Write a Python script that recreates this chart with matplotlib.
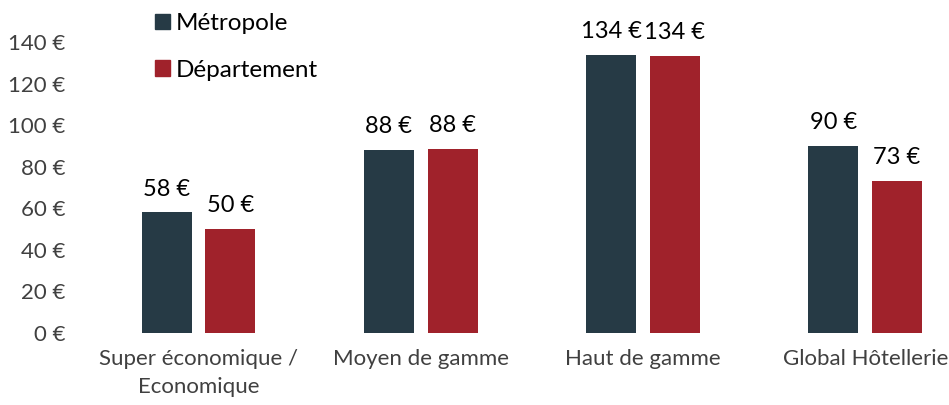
import matplotlib
matplotlib.use("Agg")
import matplotlib.pyplot as plt
import numpy as np
from matplotlib.patches import Patch

plt.rcParams['font.family'] = ['Lato', 'DejaVu Sans']

categories = ["Super économique /\nEconomique", "Moyen de gamme", "Haut de gamme", "Global Hôtellerie"]
metropole = [58, 88, 134, 90]
departement = [50, 88.5, 133.5, 73]
metropole_labels = ["58 €", "88 €", "134 €", "90 €"]
departement_labels = ["50 €", "88 €", "134 €", "73 €"]
series_names = ["Métropole", "Département"]
yticks = [0, 20, 40, 60, 80, 100, 120, 140]

c_dark = "#263A45"
c_red = "#A0222B"

W, H = 949, 405
fig = plt.figure(figsize=(W / 100, H / 100), dpi=100)
ax_left, ax_right = 87.4, 949
ax_bottom, ax_top = 332.7, 21.3
ax = fig.add_axes([ax_left / W, 1 - ax_bottom / H, (ax_right - ax_left) / W, (ax_bottom - ax_top) / H])

x = np.arange(len(categories))
bw = 0.225
off = 0.143
b1 = ax.bar(x - off, metropole, bw, color=c_dark)
b2 = ax.bar(x + off, departement, bw, color=c_red)

for bars, labs in ((b1, metropole_labels), (b2, departement_labels)):
    for b, lab in zip(bars, labs):
        ax.annotate(lab, (b.get_x() + b.get_width() / 2, b.get_height()),
                    xytext=(0, 12), textcoords="offset points",
                    ha="center", va="baseline", fontsize=17, color="black")

ax.set_xlim(-0.5, (ax_right - ax_left) / 222.25 - 0.5)
ax.set_ylim(0, (ax_bottom - ax_top) / 2.076)
ax.set_yticks(yticks)
ax.set_yticklabels([f"{v} €" for v in yticks])
ax.set_xticks(x)
ax.set_xticklabels(categories, linespacing=1.45)
ax.tick_params(axis='both', length=0, labelsize=16, labelcolor="#404040")
ax.tick_params(axis='y', pad=16)
ax.tick_params(axis='x', pad=12)
for s in ax.spines.values():
    s.set_visible(False)

handles = [Patch(color=c_dark), Patch(color=c_red)]
fig.legend(handles, series_names, loc="upper left", bbox_to_anchor=(155 / W, 1 - 13 / H),
           frameon=False, fontsize=17.5, handlelength=0.62, handleheight=0.62,
           handletextpad=0.25, labelspacing=1.05, borderpad=0, borderaxespad=0)

fig.savefig("out.png", dpi=100)
